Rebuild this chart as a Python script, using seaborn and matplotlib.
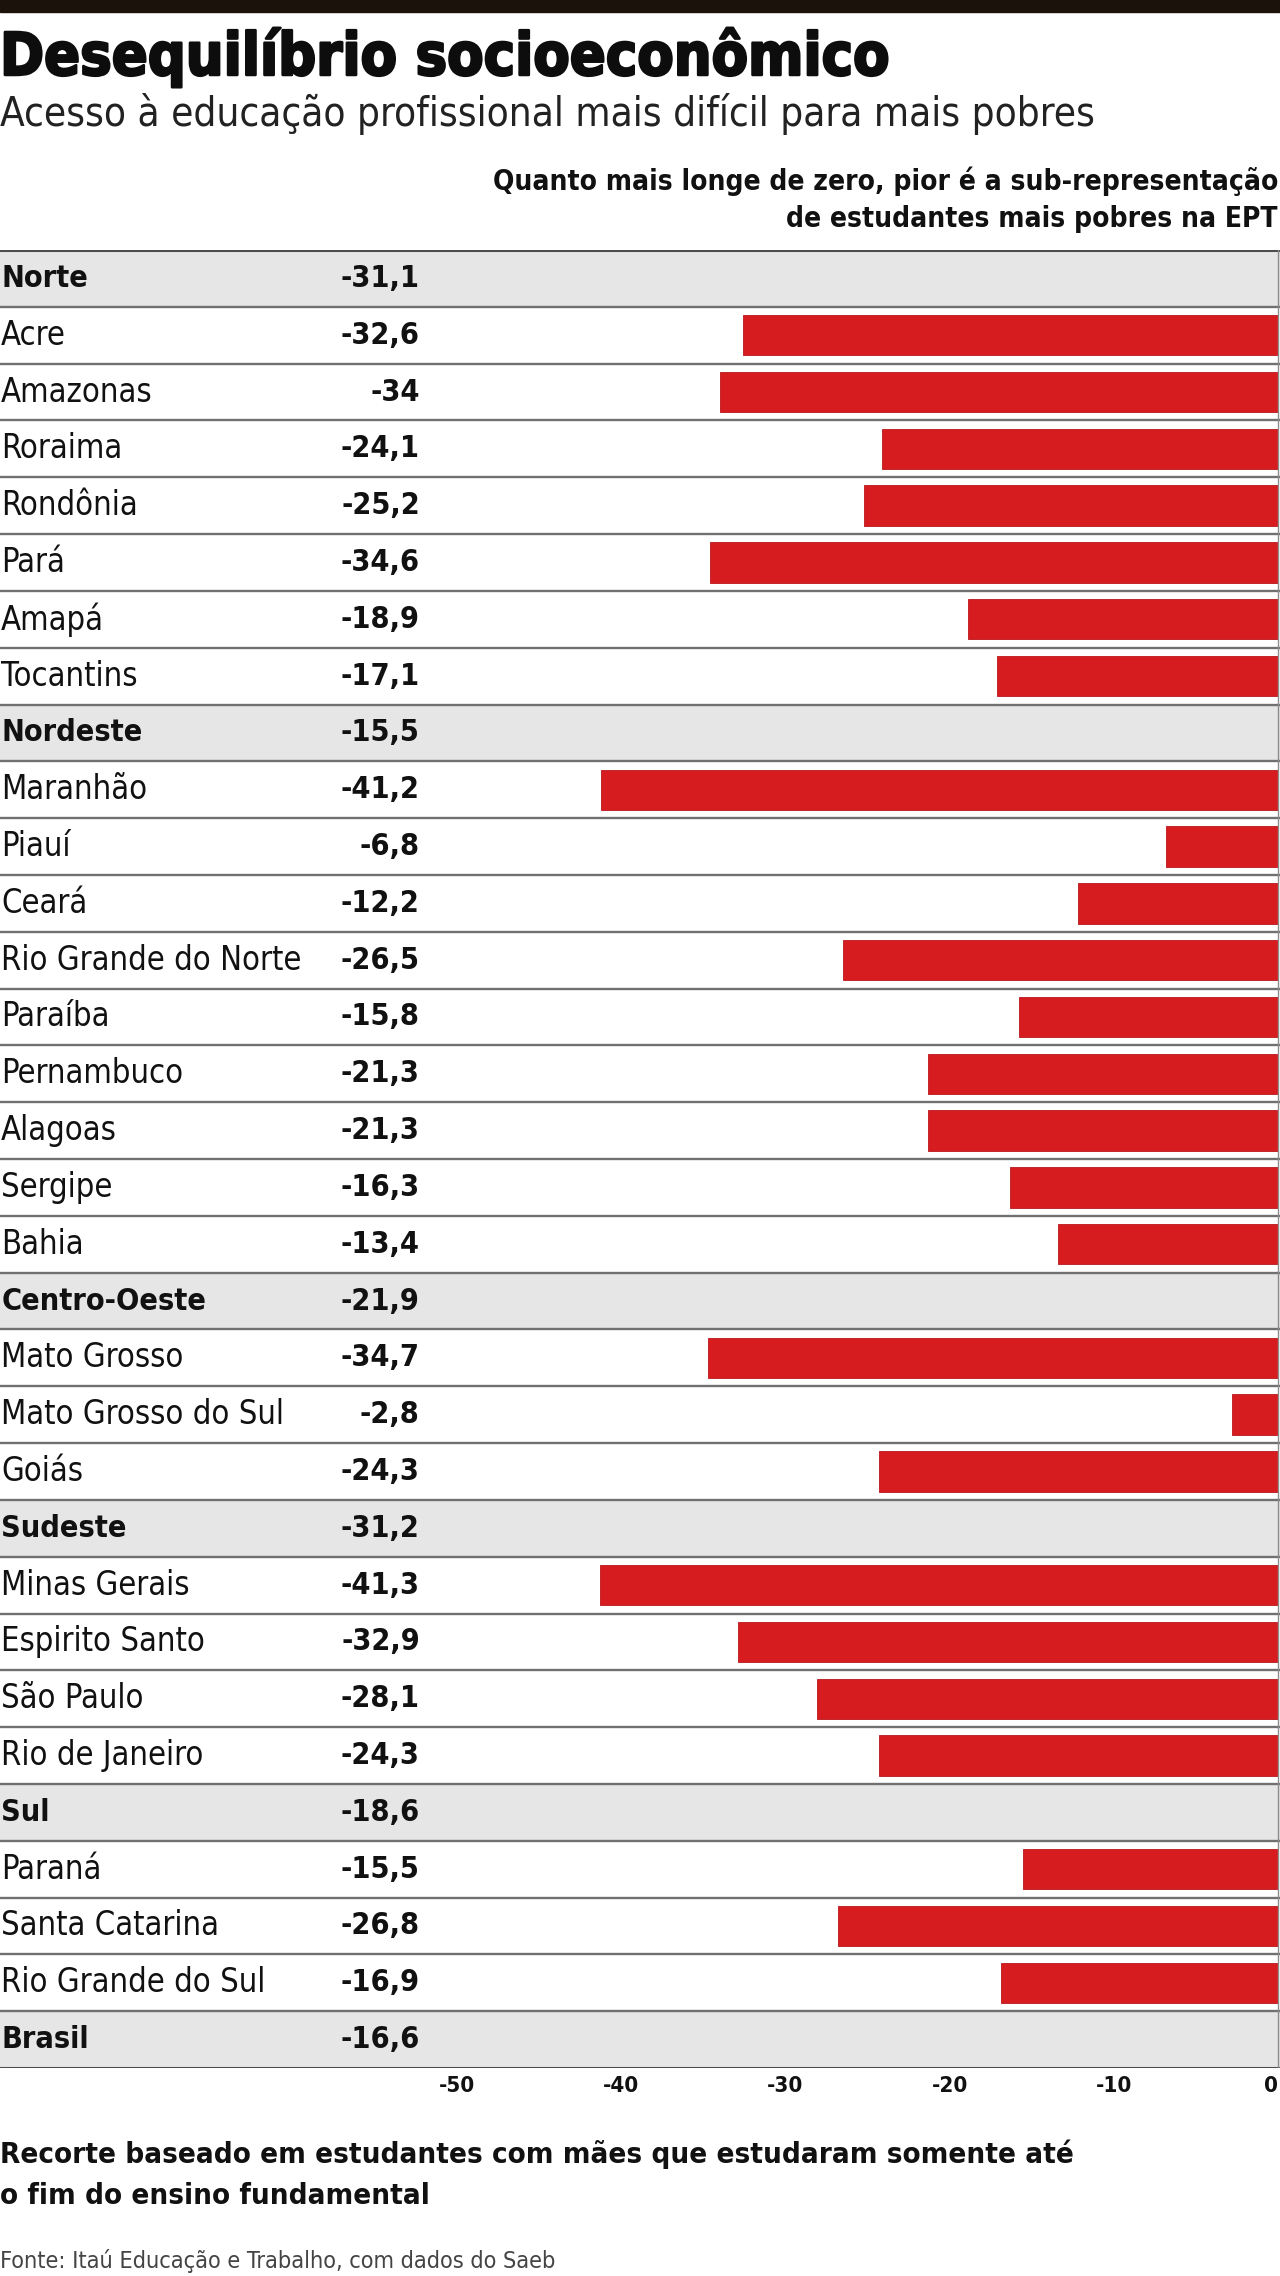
# Desequilibrio socioeconomico - horizontal bar chart by state
import pandas as pd
import matplotlib
matplotlib.use('Agg')
import matplotlib.pyplot as plt
import matplotlib.transforms as mtransforms
import matplotlib.patheffects as pe
from matplotlib.patches import Rectangle
import seaborn as sns

# Data (rows in display order, regions are group headers without bars)
rows = ['Norte', 'Acre', 'Amazonas', 'Roraima', 'Rondônia', 'Pará', 'Amapá', 'Tocantins',
        'Nordeste', 'Maranhão', 'Piauí', 'Ceará', 'Rio Grande do Norte', 'Paraíba',
        'Pernambuco', 'Alagoas', 'Sergipe', 'Bahia',
        'Centro-Oeste', 'Mato Grosso', 'Mato Grosso do Sul', 'Goiás',
        'Sudeste', 'Minas Gerais', 'Espirito Santo', 'São Paulo', 'Rio de Janeiro',
        'Sul', 'Paraná', 'Santa Catarina', 'Rio Grande do Sul',
        'Brasil']
values = [-31.1, -32.6, -34.0, -24.1, -25.2, -34.6, -18.9, -17.1,
          -15.5, -41.2, -6.8, -12.2, -26.5, -15.8, -21.3, -21.3, -16.3, -13.4,
          -21.9, -34.7, -2.8, -24.3,
          -31.2, -41.3, -32.9, -28.1, -24.3,
          -18.6, -15.5, -26.8, -16.9,
          -16.6]
groups = ['Norte', 'Nordeste', 'Centro-Oeste', 'Sudeste', 'Sul', 'Brasil']
ticks = [-50, -40, -30, -20, -10, 0]

title = 'Desequilíbrio socioeconômico'
subtitle = 'Acesso à educação profissional mais difícil para mais pobres'
note = ['Quanto mais longe de zero, pior é a sub-representação',
        'de estudantes mais pobres na EPT']
footnote = ['Recorte baseado em estudantes com mães que estudaram somente até',
            'o fim do ensino fundamental']
source = 'Fonte: Itaú Educação e Trabalho, com dados do Saeb'

df = pd.DataFrame({'regiao': rows, 'valor': values})
bars_df = df[~df['regiao'].isin(groups)]

def fmt(v):
    s = f'{v:.1f}'.replace('.', ',')
    return s[:-2] if s.endswith(',0') else s

# Figure setup
W, H = 1280, 2276
sns.set_style('white')
plt.rcParams['font.family'] = ['DejaVu Sans']
plt.rcParams['font.stretch'] = 'condensed'
fig = plt.figure(figsize=(W / 100, H / 100), dpi=100)

def fy(px):
    return 1 - px / H

top_px, bottom_px = 250, 2068
ax = fig.add_axes([0, fy(bottom_px), 1, (bottom_px - top_px) / H])

red = '#d71c20'
sns.barplot(data=bars_df, x='valor', y='regiao', order=rows, orient='h',
            color=red, saturation=1, width=0.71, ax=ax, zorder=3,
            edgecolor='#b8161a', linewidth=0.6)

n = len(rows)
ax.set_ylim(n - 0.5, -0.5)
# value 0 sits at x=1278 px, 16.42 px per unit
ax.set_xlim(-1278 / 16.42, 2 / 16.42)

for i, r in enumerate(rows):
    if r in groups:
        ax.axhspan(i - 0.5, i + 0.5, color='#e6e6e6', zorder=0, lw=0)
for i in range(n + 1):
    edge = i in (0, n)
    ax.axhline(i - 0.5, color='#4d4d4d' if edge else '#707070',
               lw=2.2 if edge else 1.7, zorder=4)
ax.axvline(0, color='#8c8c8c', lw=1, zorder=4)

trans = mtransforms.blended_transform_factory(ax.transAxes, ax.transData)
for i, r in enumerate(rows):
    bold = r in groups
    ax.text(0.001, i, r, transform=trans, va='center', ha='left',
            fontsize=22 if bold else 23.5, fontweight='bold' if bold else 'normal',
            color='#111111')
    ax.text(0.328, i, fmt(values[i]), transform=trans, va='center', ha='right',
            fontsize=22, fontweight='bold', color='#111111')

ax.set_ylabel('')
ax.set_xlabel('')
ax.set_yticks([])
ax.set_xticks(ticks)
ax.set_xticklabels([str(t) for t in ticks], fontsize=16, fontweight='bold', color='#111111')
ax.get_xticklabels()[-1].set_ha('right')
ax.tick_params(axis='x', length=0, pad=6)
sns.despine(ax=ax, left=True, bottom=True)

# Header / footer text
fig.patches.append(Rectangle((0, fy(12)), 1, 12 / H, transform=fig.transFigure,
                             color='#1c120c', zorder=5))
fig.text(0.0, fy(75), title, fontsize=42.5, fontweight='bold', color='#0d0d0d', va='baseline',
         path_effects=[pe.withStroke(linewidth=1.8, foreground='#0d0d0d')])
fig.text(0.0, fy(126), subtitle, fontsize=29, color='#222222', va='baseline')
fig.text(1278 / W, fy(190), note[0], fontsize=20.2, fontweight='bold', ha='right',
         va='baseline', color='#111111')
fig.text(1278 / W, fy(227), note[1], fontsize=20.2, fontweight='bold', ha='right',
         va='baseline', color='#111111')
fig.text(0.0, fy(2163), footnote[0], fontsize=21.2, fontweight='bold', va='baseline', color='#111111')
fig.text(0.0, fy(2204), footnote[1], fontsize=21.2, fontweight='bold', va='baseline', color='#111111')
fig.text(0.0, fy(2268), source, fontsize=16.8, va='baseline', color='#444444')

fig.savefig('out.png', dpi=100)
